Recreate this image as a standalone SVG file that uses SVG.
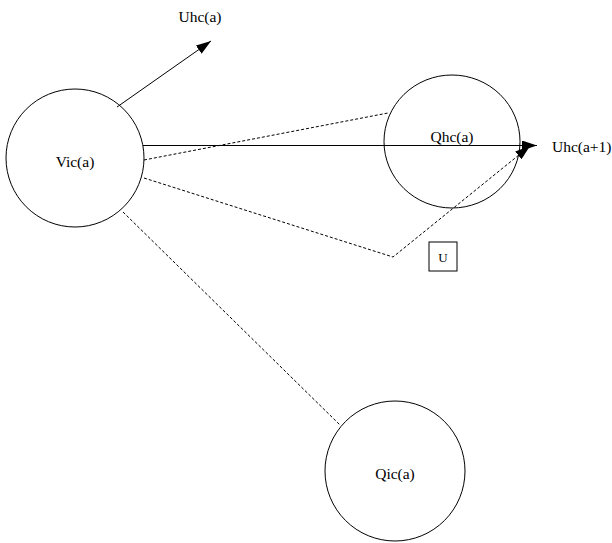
<svg xmlns="http://www.w3.org/2000/svg" width="612" height="543" viewBox="0 0 612 543">
<style>
.n{fill:#fff;stroke:#000;stroke-width:1}
.t{font-family:"Liberation Serif",serif;font-size:15.5px;fill:#000;text-anchor:middle}
.s{fill:none;stroke:#000;stroke-width:1}
.d{fill:none;stroke:#000;stroke-width:1;stroke-dasharray:3,2}
</style>
<defs>
<marker id="ah" markerWidth="16" markerHeight="10" refX="15" refY="5" orient="auto" markerUnits="userSpaceOnUse">
<path d="M0,0 L15,5 L0,10 Z" fill="#000"/>
</marker>
</defs>
<rect width="612" height="543" fill="#fff"/>
<g id="Vic"><circle class="n" cx="75" cy="158" r="69"/><text class="t" x="75" y="167">Vic(a)</text></g>
<g id="Qhc"><ellipse class="n" cx="452" cy="141.5" rx="68" ry="66.5"/></g>
<g id="Qic"><circle class="n" cx="395" cy="471" r="70"/><text class="t" x="395" y="479">Qic(a)</text></g>
<g id="Ubox"><rect class="n" x="429" y="242" width="28" height="29"/><text class="t" x="443" y="262" style="font-size:13px">U</text></g>
<g id="connectors">
<path class="s" d="M117,107 L211,41" marker-end="url(#ah)"/>
<path class="s" d="M143,145.5 L537,145.5" marker-end="url(#ah)"/>
<path class="d" d="M144,160 L388,113"/>
<path class="d" d="M144,178 L393,257 L530,146" marker-end="url(#ah)"/>
<path class="d" d="M123,212 L340,425"/>
</g>
<text class="t" x="452" y="142">Qhc(a)</text>
<text class="t" x="200" y="22">Uhc(a)</text>
<text class="t" x="552" y="152" style="text-anchor:start">Uhc(a+1)</text>
</svg>
